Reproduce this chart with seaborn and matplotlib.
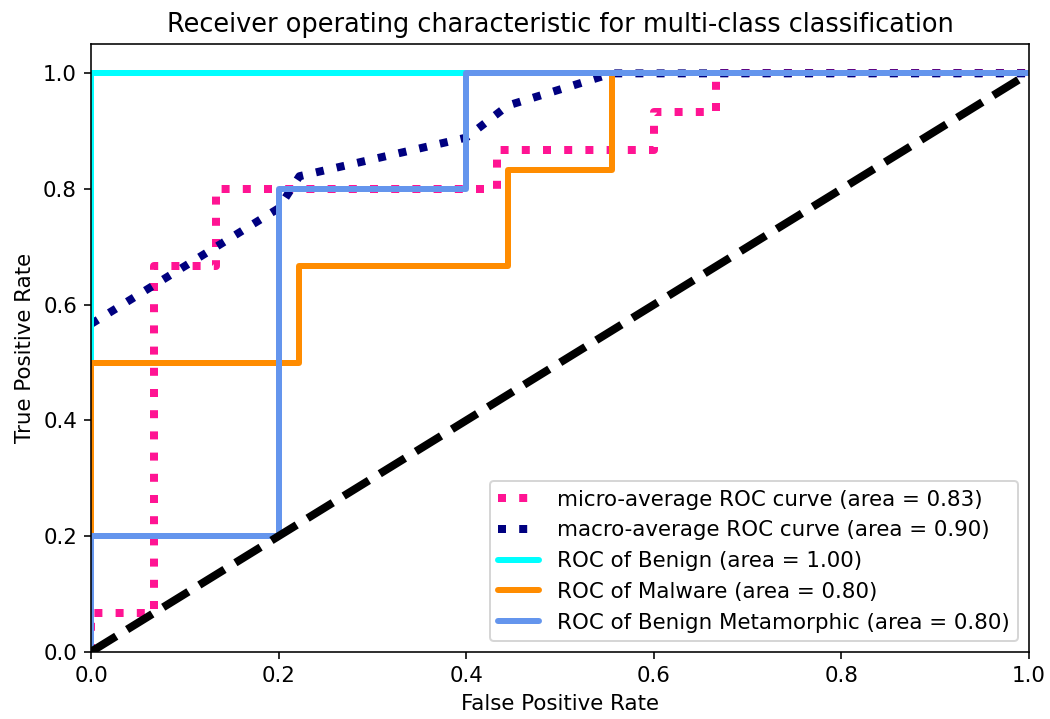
import numpy as np
import pandas as pd
import matplotlib
matplotlib.use("Agg")
import matplotlib.pyplot as plt
import seaborn as sns

# ROC curve points (false positive rate, true positive rate)
micro_fpr = [0.0, 0.0, 0.0667, 0.0667, 0.1333, 0.1333, 0.4333, 0.4333, 0.6, 0.6, 0.6667, 0.6667, 1.0]
micro_tpr = [0.0, 0.0667, 0.0667, 0.6667, 0.6667, 0.8, 0.8, 0.8667, 0.8667, 0.9333, 0.9333, 1.0, 1.0]
micro_auc = 0.83

macro_fpr = [0.0, 0.2, 0.2222, 0.4, 0.4444, 0.5556, 1.0]
macro_tpr = [0.5667, 0.7667, 0.8222, 0.8889, 0.9444, 1.0, 1.0]
macro_auc = 0.90

class_names = ["Benign", "Malware", "Benign Metamorphic"]
class_colors = ["aqua", "darkorange", "cornflowerblue"]
class_fpr = [
    [0.0, 0.0, 1.0],
    [0.0, 0.0, 0.2222, 0.2222, 0.4444, 0.4444, 0.5556, 0.5556, 1.0],
    [0.0, 0.0, 0.2, 0.2, 0.4, 0.4, 1.0],
]
class_tpr = [
    [0.0, 1.0, 1.0],
    [0.0, 0.5, 0.5, 0.6667, 0.6667, 0.8333, 0.8333, 1.0, 1.0],
    [0.0, 0.2, 0.2, 0.8, 0.8, 1.0, 1.0],
]
class_auc = [1.00, 0.80, 0.80]

chance_x = [0.0, 1.0]
chance_y = [0.0, 1.0]

sns.set_style("ticks")
plt.rcParams.update({
    "font.family": ["DejaVu Sans"],
    "font.size": 10.7,
    "axes.edgecolor": "black",
    "axes.linewidth": 0.8,
    "axes.labelcolor": "black",
    "text.color": "black",
    "xtick.color": "black",
    "ytick.color": "black",
    "xtick.major.size": 3.5,
    "ytick.major.size": 3.5,
    "xtick.major.width": 0.8,
    "ytick.major.width": 0.8,
    "xtick.labelsize": 10.7,
    "ytick.labelsize": 10.7,
    "axes.titlesize": 12.8,
    "axes.labelsize": 10.7,
    "legend.fontsize": 10.7,
})

dpi = 144
fig = plt.figure(figsize=(1050 / dpi, 719 / dpi), dpi=dpi)
ax = fig.add_axes([0.0867, 0.0935, 0.98 - 0.0867, 0.9382 - 0.0935])

sns.lineplot(x=micro_fpr, y=micro_tpr, sort=False, estimator=None, ax=ax,
             color="deeppink", linestyle=":", linewidth=4,
             label=f"micro-average ROC curve (area = {micro_auc:0.2f})")
sns.lineplot(x=macro_fpr, y=macro_tpr, sort=False, estimator=None, ax=ax,
             color="navy", linestyle=":", linewidth=4,
             label=f"macro-average ROC curve (area = {macro_auc:0.2f})")

for name, color, fpr, tpr, auc in zip(class_names, class_colors, class_fpr, class_tpr, class_auc):
    sns.lineplot(x=fpr, y=tpr, sort=False, estimator=None, ax=ax,
                 color=color, linewidth=3,
                 label=f"ROC of {name} (area = {auc:0.2f})")

ax.plot(chance_x, chance_y, "k--", linewidth=4)

ax.set_xlim(0.0, 1.0)
ax.set_ylim(0.0, 1.05)
ax.set_xticks(np.arange(0, 1.01, 0.2))
ax.set_yticks(np.arange(0, 1.01, 0.2))
ax.set_xlabel("False Positive Rate")
ax.set_ylabel("True Positive Rate")
ax.set_title("Receiver operating characteristic for multi-class classification")
ax.legend(loc="lower right", frameon=True, fancybox=True, framealpha=0.8,
          edgecolor="0.8", facecolor="white", handlelength=1.9, handletextpad=0.85)

fig.savefig("out.png", dpi=dpi)
